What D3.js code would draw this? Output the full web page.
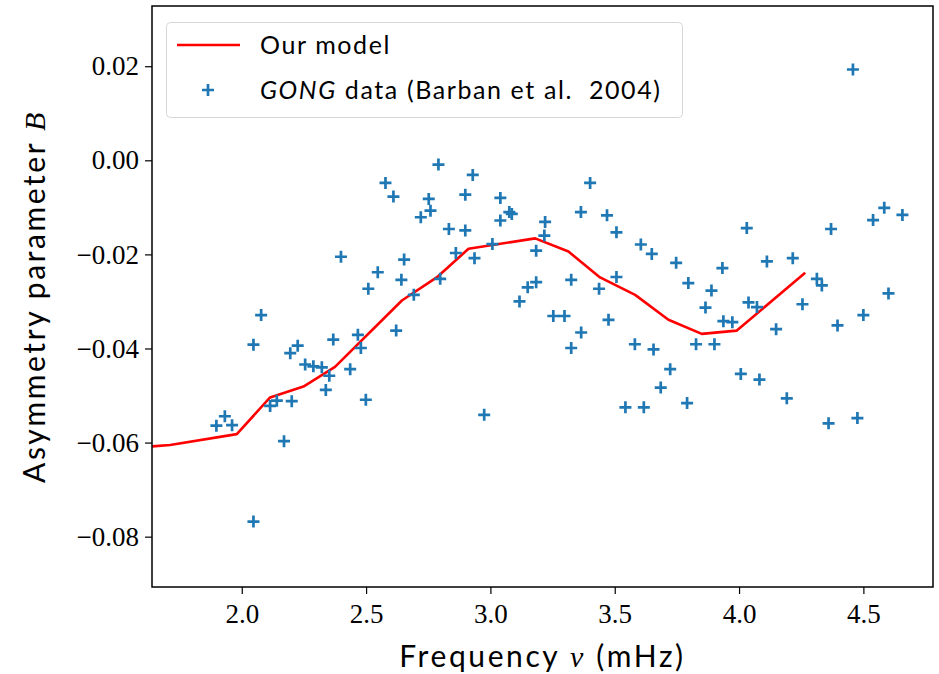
<!DOCTYPE html>
<html>
<head>
<meta charset="utf-8">
<script src="https://cdn.jsdelivr.net/npm/d3@7"></script>
<style>
  body { margin: 0; background: #fff; }
  svg { display: block; }
</style>
</head>
<body>
<svg id="chart" width="939" height="674"></svg>
<script>

// model curve (mHz, B)
var modelFreq = [1.640, 1.712, 1.980, 2.114, 2.248, 2.375, 2.644, 2.784, 2.912, 3.180, 3.314, 3.441, 3.582, 3.716, 3.850, 3.991, 4.266];
var modelB = [-0.0608, -0.0605, -0.0582, -0.0504, -0.0481, -0.0439, -0.0298, -0.0249, -0.0188, -0.0166, -0.0194, -0.0249, -0.0286, -0.0339, -0.0369, -0.0362, -0.0239];

// GONG data points
var gongFreq = [2.791, 2.929, 2.578, 2.610, 2.752, 2.899, 3.040, 2.759, 2.720, 3.076, 3.086, 3.040, 2.833, 2.899, 3.220, 3.217,
  3.008, 2.861, 2.936, 3.184, 2.399, 2.653, 2.547, 2.642, 2.798, 2.509, 2.692, 3.184, 3.150, 3.117, 2.078, 2.621,
  2.368, 2.467, 2.479, 2.047, 2.225, 2.195, 2.255, 2.288, 2.322, 2.352, 2.436, 2.338, 2.499, 2.114, 2.141, 2.201,
  2.975, 1.898, 1.932, 1.961, 2.170, 2.047,
  3.401, 3.364, 3.469, 3.507, 4.031, 4.370, 4.539, 4.584, 4.657, 3.605, 3.649, 3.747, 3.933, 4.112, 4.216, 3.796,
  3.889, 3.865, 3.507, 3.325, 3.437, 4.313, 4.333, 4.601, 4.038, 4.072, 4.255, 3.253, 3.298, 3.365, 3.475, 3.937,
  3.973, 4.149, 4.396, 4.500, 3.325, 3.581, 3.656, 3.827, 3.901, 3.723, 3.685, 4.007, 4.082, 4.192, 3.543, 3.617,
  3.791, 4.360, 4.476, 4.458];
var gongB = [-0.0009, -0.0031, -0.0048, -0.0077, -0.0082, -0.0073, -0.0080, -0.0107, -0.0121, -0.0110, -0.0114, -0.0128, -0.0146, -0.0149, -0.0131, -0.0160,
  -0.0178, -0.0197, -0.0208, -0.0192, -0.0205, -0.0211, -0.0238, -0.0254, -0.0252, -0.0273, -0.0286, -0.0259, -0.0270, -0.0300, -0.0329, -0.0362,
  -0.0381, -0.0371, -0.0399, -0.0392, -0.0394, -0.0410, -0.0434, -0.0438, -0.0440, -0.0458, -0.0444, -0.0488, -0.0509, -0.0522, -0.0511, -0.0512,
  -0.0541, -0.0564, -0.0544, -0.0563, -0.0597, -0.0768,
  -0.0048, -0.0110, -0.0117, -0.0153, -0.0144, -0.0146, -0.0127, -0.0101, -0.0116, -0.0179, -0.0199, -0.0218, -0.0229, -0.0215, -0.0208, -0.0261,
  -0.0277, -0.0313, -0.0248, -0.0254, -0.0273, -0.0252, -0.0266, -0.0283, -0.0302, -0.0312, -0.0306, -0.0331, -0.0331, -0.0366, -0.0339, -0.0342,
  -0.0344, -0.0359, -0.0351, -0.0329, -0.0399, -0.0391, -0.0402, -0.0391, -0.0391, -0.0444, -0.0483, -0.0454, -0.0466, -0.0506, -0.0525, -0.0525,
  -0.0516, -0.0559, -0.0548, 0.0193];

var xTicks = [2.0, 2.5, 3.0, 3.5, 4.0, 4.5];
var yTicks = [0.02, 0.00, -0.02, -0.04, -0.06, -0.08];

var svg = d3.select("#chart"),
    margin = {left: 152, right: 6, top: 6, bottom: 87},
    width = +svg.attr("width") - margin.left - margin.right,
    height = +svg.attr("height") - margin.top - margin.bottom;

var sans = "Lato, 'Open Sans', sans-serif";
var serif = "'Liberation Serif', 'DejaVu Serif', serif";

var x = d3.scaleLinear()
    .domain([1.639, 4.78])
    .range([0, width]);

var y = d3.scaleLinear()
    .domain([-0.0907, 0.0328])
    .range([height, 0]);

var g = svg.append("g")
    .attr("transform", "translate(" + margin.left + "," + margin.top + ")");

svg.append("defs").append("clipPath")
    .attr("id", "clip")
  .append("rect")
    .attr("width", width)
    .attr("height", height);

// axes
var xAxis = g.append("g")
    .attr("transform", "translate(0," + height + ")")
    .call(d3.axisBottom(x)
        .tickValues(xTicks)
        .tickFormat(d3.format(".1f"))
        .tickSizeInner(7)
        .tickSizeOuter(0)
        .tickPadding(6));

var yAxis = g.append("g")
    .call(d3.axisLeft(y)
        .tickValues(yTicks)
        .tickFormat(function(d) { return d3.format(".2f")(d).replace("-", "\u2212\u2009"); })
        .tickSizeInner(7)
        .tickSizeOuter(0)
        .tickPadding(6));

g.selectAll(".domain").remove();
g.selectAll(".tick line").attr("stroke", "#000").attr("stroke-width", 1.2);
g.selectAll(".tick text")
    .attr("fill", "#000")
    .attr("font-family", serif)
    .attr("font-size", "27px");
xAxis.selectAll(".tick text").attr("dy", "0.85em");

// model line
var line = d3.line()
    .x(function(d) { return x(d[0]); })
    .y(function(d) { return y(d[1]); });

g.append("path")
    .datum(d3.zip(modelFreq, modelB))
    .attr("clip-path", "url(#clip)")
    .attr("fill", "none")
    .attr("stroke", "#ff0000")
    .attr("stroke-width", 2.6)
    .attr("stroke-linejoin", "round")
    .attr("d", line);

// data markers
var plus = "M-6,0H6M0,-6V6";

g.append("g")
    .attr("clip-path", "url(#clip)")
  .selectAll("path")
  .data(d3.zip(gongFreq, gongB))
  .enter().append("path")
    .attr("transform", function(d) { return "translate(" + x(d[0]) + "," + y(d[1]) + ")"; })
    .attr("d", plus)
    .attr("stroke", "#1f77b4")
    .attr("stroke-width", 2.7);

// frame
g.append("rect")
    .attr("width", width)
    .attr("height", height)
    .attr("fill", "none")
    .attr("stroke", "#000")
    .attr("stroke-width", 1.5);

// legend
var legend = svg.append("g");

legend.append("rect")
    .attr("x", 166.5)
    .attr("y", 22.5)
    .attr("width", 516)
    .attr("height", 95)
    .attr("rx", 4)
    .attr("fill", "#fff")
    .attr("fill-opacity", 0.8)
    .attr("stroke", "#d6d6d6")
    .attr("stroke-width", 1);

legend.append("line")
    .attr("x1", 177).attr("x2", 240)
    .attr("y1", 45).attr("y2", 45)
    .attr("stroke", "#ff0000")
    .attr("stroke-width", 2.6);

legend.append("path")
    .attr("transform", "translate(208,90)")
    .attr("d", plus)
    .attr("stroke", "#1f77b4")
    .attr("stroke-width", 2.7);

legend.append("text")
    .attr("x", 260)
    .attr("y", 54)
    .attr("font-family", sans)
    .attr("font-size", "25px")
    .attr("letter-spacing", 1.6)
    .text("Our model");

var t2 = legend.append("text")
    .attr("x", 260)
    .attr("y", 99)
    .attr("font-family", sans)
    .attr("font-size", "25px")
    .attr("letter-spacing", 1.6);
t2.append("tspan").attr("font-style", "italic").text("GONG");
t2.append("tspan").text(" data (Barban et al.\u00a0 2004)");

// axis labels
var xl = svg.append("text")
    .attr("x", margin.left + width / 2)
    .attr("y", 667)
    .attr("text-anchor", "middle")
    .attr("font-family", sans)
    .attr("font-size", "30px")
    .attr("letter-spacing", 2.6);
xl.append("tspan").text("Frequency ");
xl.append("tspan").attr("font-family", serif).attr("font-style", "italic").text("\u03bd");
xl.append("tspan").text(" (mHz)");

var yl = svg.append("text")
    .attr("transform", "translate(45," + (margin.top + height / 2) + ") rotate(-90)")
    .attr("text-anchor", "middle")
    .attr("font-family", sans)
    .attr("font-size", "30px")
    .attr("letter-spacing", 2.6);
yl.append("tspan").text("Asymmetry parameter ");
yl.append("tspan").attr("font-family", serif).attr("font-style", "italic").text("B");

</script>
</body>
</html>
